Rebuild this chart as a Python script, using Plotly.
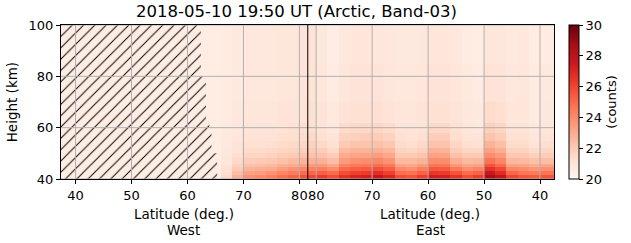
import numpy as np
import plotly.graph_objects as go
import plotly.colors as pc

TITLE = "2018-05-10 19:50 UT (Arctic, Band-03)"
TURN_LAT = 81.5  # highest latitude reached; along-track coord: west s = lat, east s = 2*TURN_LAT - lat

west_tick_lats = [40, 50, 60, 70, 80]
east_tick_lats = [80, 70, 60, 50, 40]
height_ticks = [40, 60, 80, 100]
cbar_ticks = [20, 22, 24, 26, 28, 30]

# column edges along track (deg), row edges in height (km)
track_edges = [37.4, 63, 66, 68, 70, 72, 74, 76, 78, 80, 81.5, 83, 85, 87, 89, 91, 93, 95,
               97, 99, 101, 103, 105, 107, 109, 111, 113, 115, 117, 119, 121, 123, 125.5]
height_edges = [40, 41.5, 43, 44.5, 46, 48, 50, 52, 55, 58, 62, 70, 85, 100]

# counts profile of each along-track column, bottom (40 km) to top (100 km)
profiles = [
    [20.5, 20.5, 20.5, 20.5, 20.5, 20.5, 20.5, 20.5, 20.5, 20.5, 20.5, 20.5, 20.5],
    [20.5, 20.5, 20.5, 20.5, 20.5, 20.5, 20.5, 20.5, 20.5, 20.5, 20.5, 20.5, 20.5],
    [21.5, 21.3, 21.2, 21.0, 20.9, 20.8, 20.8, 20.7, 20.7, 20.7, 20.6, 20.6, 20.6],
    [22.8, 22.4, 22.0, 21.7, 21.5, 21.3, 21.1, 21.0, 20.9, 20.8, 20.8, 20.7, 20.7],
    [23.8, 23.3, 22.7, 22.3, 21.9, 21.6, 21.4, 21.2, 21.1, 21.0, 20.9, 20.8, 20.8],
    [24.0, 23.4, 22.9, 22.4, 22.0, 21.6, 21.4, 21.2, 21.1, 21.0, 20.9, 20.8, 20.8],
    [24.3, 23.7, 23.0, 22.5, 22.1, 21.7, 21.5, 21.3, 21.1, 21.0, 20.9, 20.8, 20.8],
    [24.8, 24.1, 23.4, 22.8, 22.3, 21.9, 21.6, 21.4, 21.3, 21.1, 21.0, 20.9, 20.9],
    [25.2, 24.4, 23.7, 23.0, 22.5, 22.0, 21.7, 21.5, 21.3, 21.2, 21.0, 20.9, 20.9],
    [25.7, 24.9, 24.0, 23.3, 22.7, 22.2, 21.9, 21.6, 21.4, 21.3, 21.1, 21.0, 21.0],
    [26.0, 25.1, 24.2, 23.5, 22.8, 22.3, 22.0, 21.7, 21.5, 21.3, 21.2, 21.1, 21.0],
    [26.3, 25.3, 24.3, 23.5, 22.8, 22.2, 21.9, 21.5, 21.3, 21.1, 21.0, 20.9, 20.8],
    [25.8, 24.9, 23.9, 23.1, 22.4, 21.9, 21.5, 21.2, 21.0, 20.8, 20.7, 20.6, 20.5],
    [26.6, 25.8, 25.0, 24.2, 23.5, 23.0, 22.5, 22.0, 21.7, 21.4, 21.1, 20.9, 20.8],
    [27.0, 26.1, 25.3, 24.5, 23.8, 23.2, 22.7, 22.2, 21.8, 21.5, 21.2, 21.0, 20.9],
    [27.2, 26.3, 25.4, 24.6, 23.9, 23.2, 22.7, 22.2, 21.9, 21.5, 21.2, 21.0, 20.9],
    [27.6, 26.7, 25.7, 24.9, 24.1, 23.4, 22.8, 22.3, 21.9, 21.6, 21.2, 21.0, 20.9],
    [27.0, 26.1, 25.3, 24.5, 23.7, 23.1, 22.6, 22.1, 21.7, 21.4, 21.1, 20.9, 20.8],
    [25.8, 24.9, 24.0, 23.2, 22.5, 22.0, 21.7, 21.4, 21.2, 21.0, 20.9, 20.8, 20.7],
    [25.6, 24.7, 23.8, 23.1, 22.5, 22.0, 21.6, 21.3, 21.1, 21.0, 20.9, 20.8, 20.7],
    [26.2, 25.2, 24.3, 23.5, 22.7, 22.2, 21.8, 21.5, 21.3, 21.1, 21.0, 20.9, 20.8],
    [27.3, 26.4, 25.5, 24.7, 23.9, 23.3, 22.8, 22.2, 21.9, 21.5, 21.2, 21.0, 20.9],
    [27.2, 26.3, 25.4, 24.6, 23.9, 23.2, 22.7, 22.2, 21.9, 21.5, 21.2, 21.0, 20.9],
    [26.6, 25.6, 24.5, 23.6, 22.9, 22.3, 21.9, 21.6, 21.3, 21.2, 21.0, 20.9, 20.8],
    [25.8, 24.9, 23.9, 23.2, 22.5, 22.0, 21.6, 21.3, 21.1, 20.9, 20.8, 20.7, 20.6],
    [26.2, 25.2, 24.2, 23.3, 22.6, 22.0, 21.6, 21.2, 21.0, 20.8, 20.7, 20.6, 20.5],
    [28.6, 27.6, 26.6, 25.6, 24.7, 23.9, 23.3, 22.7, 22.2, 21.8, 21.4, 21.1, 20.9],
    [27.8, 26.8, 25.9, 25.0, 24.1, 23.5, 22.9, 22.4, 21.9, 21.6, 21.3, 21.0, 20.9],
    [26.0, 25.1, 24.1, 23.3, 22.6, 22.1, 21.7, 21.4, 21.2, 21.0, 20.9, 20.8, 20.7],
    [25.6, 24.7, 23.9, 23.2, 22.5, 22.1, 21.7, 21.4, 21.2, 21.1, 20.9, 20.9, 20.8],
    [25.4, 24.5, 23.6, 22.9, 22.3, 21.8, 21.4, 21.1, 20.9, 20.8, 20.6, 20.6, 20.5],
    [25.6, 24.7, 23.8, 23.1, 22.4, 21.9, 21.6, 21.3, 21.1, 20.9, 20.8, 20.7, 20.6],
]

# no-data (hatched) region outline, along-track coord and height
mask_s = [37.4, 37.4, 62.4, 62.4, 63.3, 63.3, 63.9, 63.9, 64.3, 64.3, 65.3, 65.3, 37.4]
mask_h = [40, 100, 100, 80, 80, 63, 63, 60, 60, 50, 50, 40, 40]

FONT = "DejaVu Sans"
z = np.array(profiles).T

west_s = [float(v) for v in west_tick_lats]
east_s = [2 * TURN_LAT - v for v in east_tick_lats]
tickvals = west_s + east_s
ticktext = [str(v) for v in west_tick_lats + east_tick_lats]

fig = go.Figure()
fig.add_trace(go.Heatmap(
    x=track_edges, y=height_edges, z=z,
    colorscale=pc.sequential.Reds, zmin=20, zmax=30,
    colorbar=dict(
        x=1.03, xanchor="left", xpad=0, y=0.5, yanchor="middle", len=1, lenmode="fraction",
        thickness=10, ypad=0, outlinecolor="black", outlinewidth=1,
        tickvals=cbar_ticks, ticks="outside", ticklen=4, tickcolor="black",
        tickfont=dict(family=FONT, size=13, color="black"),
        title=dict(text="(counts)", side="right", font=dict(family=FONT, size=13, color="black")),
    ),
))
fig.add_trace(go.Scatter(
    x=mask_s, y=mask_h, mode="lines", fill="toself",
    line=dict(width=0, color="rgba(0,0,0,0)"),
    fillcolor="rgba(0,0,0,0)",
    fillpattern=dict(shape="/", fgcolor="black", fgopacity=1, bgcolor="rgba(0,0,0,0)",
                     size=8, solidity=0.12),
    hoverinfo="skip", showlegend=False,
))

shapes = []
for v in tickvals:
    shapes.append(dict(type="line", xref="x", yref="paper", x0=v, x1=v, y0=0, y1=1,
                       line=dict(color="#b0b0b0", width=1), layer="above"))
for v in height_ticks:
    shapes.append(dict(type="line", xref="paper", yref="y", x0=0, x1=1, y0=v, y1=v,
                       line=dict(color="#b0b0b0", width=1), layer="above"))
shapes.append(dict(type="line", xref="x", yref="paper", x0=TURN_LAT, x1=TURN_LAT, y0=0, y1=1,
                   line=dict(color="black", width=1), layer="above"))

W, H = 631, 243
L, R, T, B = 61, 74, 25, 64
pw, ph = W - L - R, H - T - B

def px_x(px):
    return (px - L) / pw

def px_y(py):
    return (H - B - py) / ph

ann = [
    dict(text=TITLE, x=px_x(297.5), y=px_y(12), font=dict(size=16.5)),
    dict(text="Latitude (deg.)", x=px_x(184.5), y=px_y(214), font=dict(size=13.5)),
    dict(text="West", x=px_x(184.5), y=px_y(230), font=dict(size=13.5)),
    dict(text="Latitude (deg.)", x=px_x(432.5), y=px_y(214), font=dict(size=13.5)),
    dict(text="East", x=px_x(432.5), y=px_y(230), font=dict(size=13.5)),
    dict(text="Height (km)", x=px_x(12), y=px_y(102), textangle=-90, font=dict(size=13.5)),
]
annotations = []
for a in ann:
    a.update(xref="paper", yref="paper", showarrow=False, xanchor="center", yanchor="middle")
    a["font"].update(family=FONT, color="black")
    annotations.append(a)

fig.update_layout(
    width=W, height=H, margin=dict(l=L, r=R, t=T, b=B, pad=0),
    paper_bgcolor="white", plot_bgcolor="white",
    font=dict(family=FONT, color="black"),
    shapes=shapes, annotations=annotations, showlegend=False,
    xaxis=dict(range=[track_edges[0], track_edges[-1]], tickvals=tickvals, ticktext=ticktext,
               tickangle=0, ticks="outside", ticklen=4, tickcolor="black", showgrid=False,
               zeroline=False, showline=True, linecolor="black", linewidth=1, mirror=True,
               tickfont=dict(family=FONT, size=13, color="black")),
    yaxis=dict(range=[height_edges[0], height_edges[-1]], tickvals=height_ticks,
               ticks="outside", ticklen=4, tickcolor="black", showgrid=False, zeroline=False,
               showline=True, linecolor="black", linewidth=1, mirror=True,
               tickfont=dict(family=FONT, size=13, color="black")),
)
fig.write_html("out.html")
